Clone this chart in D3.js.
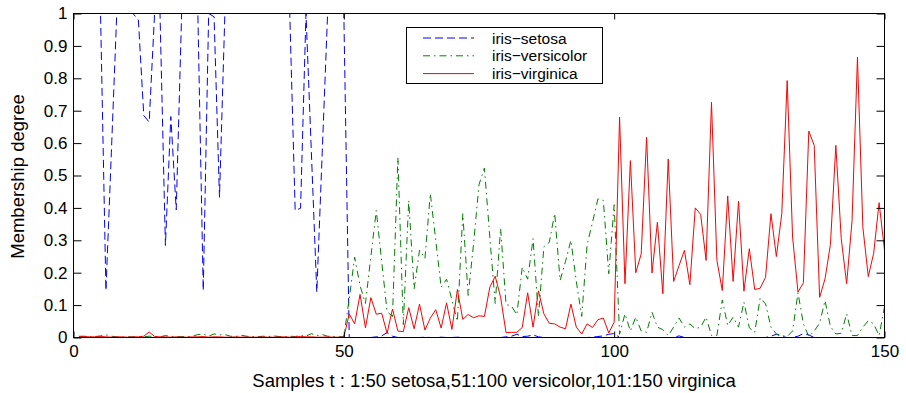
<!DOCTYPE html>
<html>
<head>
<meta charset="utf-8">
<script src="https://cdn.jsdelivr.net/npm/d3@7"></script>
<style>
  html, body { margin: 0; padding: 0; background: #fff; }
  svg { display: block; font-family: "Liberation Sans", Arial, sans-serif; }
</style>
</head>
<body>
<svg id="chart" width="906" height="393"></svg>
<script>
// membership degree of each sample (1..150) for the three classes
var setosa = [
  1, 1, 1, 1, 1, 0.145, 0.57, 1, 1, 1,
  1, 0.98, 0.685, 0.665, 1, 1, 0.284, 0.682, 0.394, 1,
  1, 1, 1, 0.145, 1, 0.99, 0.433, 1, 1, 1,
  1, 1, 1, 1, 1, 1, 1, 1, 1, 1,
  0.392, 0.399, 1, 0.57, 0.14, 0.57, 1, 1, 1, 1,
  0, 0, 0, 0, 0, 0.002, 0.005, 0.015, 0.004, 0,
  0, 0, 0, 0, 0.001, 0, 0, 0.001, 0, 0,
  0.001, 0, 0, 0, 0, 0, 0, 0, 0, 0.002,
  0.004, 0.01, 0.003, 0.004, 0.008, 0.002, 0, 0, 0, 0,
  0, 0, 0, 0, 0, 0.001, 0.003, 0.005, 0.01, 0.012,
  0, 0, 0, 0, 0, 0, 0, 0, 0, 0,
  0, 0.005, 0, 0, 0, 0, 0, 0, 0, 0,
  0, 0, 0, 0, 0, 0, 0, 0, 0.004, 0.01,
  0.003, 0, 0, 0.004, 0.012, 0.008, 0, 0, 0, 0,
  0, 0, 0, 0, 0, 0, 0, 0, 0, 0
];

var versicolor = [
  0.003, 0.004, 0.002, 0.003, 0.005, 0.008, 0.004, 0.002, 0.001, 0.002,
  0.002, 0.003, 0.002, 0.004, 0.003, 0.002, 0.006, 0.004, 0.002, 0.003,
  0.002, 0.004, 0.009, 0.011, 0.004, 0.011, 0.008, 0.009, 0.004, 0.003,
  0.007, 0.004, 0.003, 0.002, 0.004, 0.003, 0.005, 0.003, 0.002, 0.004,
  0.003, 0.006, 0.004, 0.012, 0.006, 0.009, 0.004, 0.003, 0.002, 0.003,
  0.12, 0.248, 0.16, 0.105, 0.25, 0.392, 0.235, 0.08, 0.065, 0.556,
  0.04, 0.423, 0.15, 0.27, 0.244, 0.444, 0.30, 0.155, 0.18, 0.115,
  0.05, 0.382, 0.13, 0.29, 0.472, 0.523, 0.31, 0.105, 0.337, 0.102,
  0.097, 0.07, 0.217, 0.18, 0.305, 0.065, 0.28, 0.294, 0.383, 0.176,
  0.235, 0.3, 0.173, 0.065, 0.287, 0.356, 0.428, 0.423, 0.197, 0.41,
  0.01, 0.073, 0.02, 0.063, 0.02, 0.016, 0.078, 0.032, 0.024, 0.006,
  0.032, 0.06, 0.032, 0.042, 0.027, 0.032, 0.063, 0.006, 0.006, 0.116,
  0.037, 0.063, 0.032, 0.109, 0.03, 0.016, 0.122, 0.104, 0.032, 0.011,
  0.006, 0.003, 0.02, 0.138, 0.042, 0.003, 0.02, 0.044, 0.114, 0.034,
  0.011, 0.013, 0.073, 0.006, 0.006, 0.032, 0.052, 0.042, 0.006, 0.094
];

var virginica = [
  0.004, 0.003, 0.002, 0.002, 0.003, 0.002, 0.001, 0.002, 0.002, 0.001,
  0.002, 0.002, 0.004, 0.017, 0.003, 0.002, 0.002, 0.001, 0.002, 0.001,
  0.001, 0.002, 0.002, 0.003, 0.001, 0.002, 0.002, 0.001, 0.001, 0.002,
  0.001, 0.002, 0.001, 0.001, 0.002, 0.001, 0.001, 0.002, 0.002, 0.001,
  0.002, 0.003, 0.002, 0.002, 0.001, 0.001, 0.002, 0.001, 0.001, 0.001,
  0.073, 0.042, 0.133, 0.03, 0.123, 0.072, 0.075, 0.013, 0.088, 0.02,
  0.018, 0.092, 0.027, 0.103, 0.023, 0.06, 0.086, 0.029, 0.107, 0.025,
  0.148, 0.056, 0.071, 0.061, 0.067, 0.065, 0.155, 0.189, 0.124, 0.015,
  0.016, 0.016, 0.031, 0.138, 0.032, 0.144, 0.073, 0.044, 0.042, 0.032,
  0.027, 0.103, 0.032, 0.011, 0.042, 0.031, 0.055, 0.06, 0.014, 0.047,
  0.68, 0.166, 0.546, 0.2, 0.258, 0.618, 0.199, 0.356, 0.135, 0.551,
  0.173, 0.222, 0.269, 0.163, 0.40, 0.38, 0.238, 0.726, 0.238, 0.145,
  0.437, 0.173, 0.421, 0.143, 0.274, 0.148, 0.152, 0.186, 0.382, 0.25,
  0.382, 0.793, 0.31, 0.14, 0.169, 0.637, 0.593, 0.124, 0.181, 0.287,
  0.593, 0.305, 0.166, 0.361, 0.865, 0.34, 0.188, 0.26, 0.416, 0.27
];

var xTicks = [0, 50, 100, 150];
var yTicks = [0, 0.1, 0.2, 0.3, 0.4, 0.5, 0.6, 0.7, 0.8, 0.9, 1];
var seriesNames = ["iris\u2212setosa", "iris\u2212versicolor", "iris\u2212virginica"];
var seriesColors = ["#0000ff", "#008000", "#ff0000"];
var seriesDash = ["8,4", "7,4,1.5,4", null];

var svg = d3.select("#chart");
var plotL = 73.5, plotR = 884.5, plotT = 13.5, plotB = 337.5;

var x = d3.scaleLinear().domain([0, 150]).range([plotL, plotR]);
var y = d3.scaleLinear().domain([0, 1]).range([plotB, plotT]);

// data lines
var line = d3.line()
    .x(function(d, i) { return x(i + 1); })
    .y(function(d) { return y(d); });

[setosa, versicolor, virginica].forEach(function(vals, k) {
  svg.append("path")
      .datum(vals)
      .attr("d", line)
      .attr("fill", "none")
      .attr("stroke", seriesColors[k])
      .attr("stroke-width", 1)
      .attr("stroke-dasharray", seriesDash[k]);
});

// axes box with inward ticks (matlab style)
svg.append("g").attr("transform", "translate(0," + plotB + ")")
    .call(d3.axisBottom(x).tickValues(xTicks).tickSize(-6).tickPadding(7).tickSizeOuter(0));
svg.append("g").attr("transform", "translate(0," + plotT + ")")
    .call(d3.axisTop(x).tickValues(xTicks).tickSize(-6).tickFormat("").tickSizeOuter(0));
svg.append("g").attr("transform", "translate(" + plotL + ",0)")
    .call(d3.axisLeft(y).tickValues(yTicks).tickSize(-8).tickPadding(6).tickFormat(d3.format("~g")).tickSizeOuter(0));
svg.append("g").attr("transform", "translate(" + plotR + ",0)")
    .call(d3.axisRight(y).tickValues(yTicks).tickSize(-8).tickFormat("").tickSizeOuter(0));

svg.selectAll(".domain").remove();
svg.selectAll(".tick line").attr("stroke", "#000");
svg.selectAll(".tick text")
    .attr("fill", "#000")
    .style("font-family", "'Liberation Sans', Arial, sans-serif")
    .style("font-size", "17px");

svg.append("rect")
    .attr("x", plotL).attr("y", plotT)
    .attr("width", plotR - plotL).attr("height", plotB - plotT)
    .attr("fill", "none").attr("stroke", "#000").attr("stroke-width", 1);

// axis titles
svg.append("text")
    .attr("x", 494).attr("y", 387)
    .attr("text-anchor", "middle")
    .style("font-size", "18.5px")
    .text("Samples t : 1:50 setosa,51:100 versicolor,101:150 virginica");

svg.append("text")
    .attr("transform", "translate(24," + ((plotT + plotB) / 2 + 1) + ") rotate(-90)")
    .attr("text-anchor", "middle")
    .style("font-size", "18.5px")
    .text("Membership degree");

// legend
var lg = svg.append("g");
lg.append("rect")
    .attr("x", 406.5).attr("y", 27.5).attr("width", 196).attr("height", 56)
    .attr("fill", "#fff").attr("stroke", "#000").attr("stroke-width", 1);
seriesNames.forEach(function(name, k) {
  var ly = 38 + k * 17.8;
  lg.append("line")
      .attr("x1", 423).attr("x2", 474).attr("y1", ly).attr("y2", ly)
      .attr("stroke", seriesColors[k]).attr("stroke-width", 1)
      .attr("stroke-dasharray", seriesDash[k]);
  lg.append("text")
      .attr("x", 492).attr("y", ly + 5.5)
      .style("font-size", "15.5px")
      .text(name);
});
</script>
</body>
</html>
